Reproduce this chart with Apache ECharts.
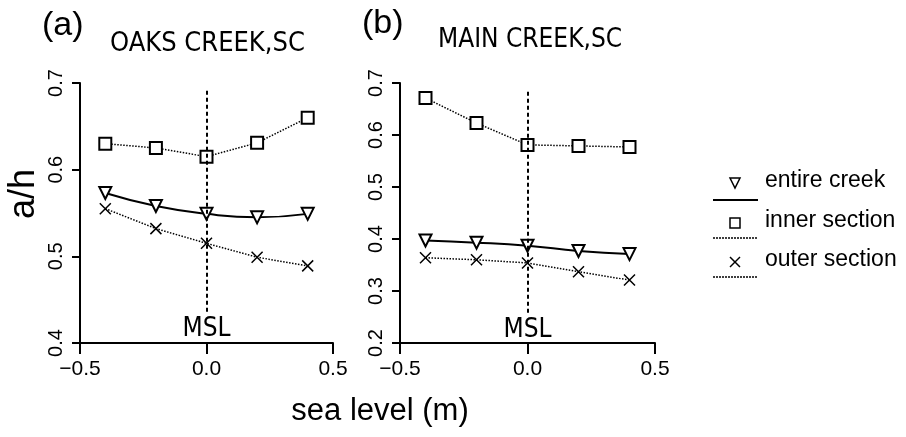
<!DOCTYPE html>
<html>
<head>
<meta charset="utf-8">
<script src="https://cdn.jsdelivr.net/npm/echarts@6/dist/echarts.min.js"></script>
<style>
html, body { margin: 0; background: #fff; }
#chart { width: 906px; height: 437px; }
</style>
</head>
<body>
<div id="chart"></div>
<script>
// sea level (m) at which a/h was computed
var seaLevel = [-0.4, -0.2, 0.0, 0.2, 0.4];
// (a) Oaks Creek
var oaksEntire = [0.573, 0.558, 0.549, 0.545, 0.549];
var oaksInner = [0.630, 0.625, 0.615, 0.631, 0.660];
var oaksOuter = [0.555, 0.532, 0.515, 0.499, 0.489];
// (b) Main Creek
var mainEntire = [0.397, 0.393, 0.387, 0.377, 0.371];
var mainInner = [0.671, 0.623, 0.581, 0.579, 0.577];
var mainOuter = [0.364, 0.360, 0.354, 0.337, 0.321];
// tick labels
var xTicks = [-0.5, 0.0, 0.5];
var oaksYTicks = [0.4, 0.5, 0.6, 0.7];
var mainYTicks = [0.2, 0.3, 0.4, 0.5, 0.6, 0.7];
var panelTitles = ['OAKS CREEK,SC', 'MAIN CREEK,SC'];
var panelTags = ['(a)', '(b)'];
var seriesNames = ['entire creek', 'inner section', 'outer section'];

var SANS = '"Liberation Sans", Arial, sans-serif';
var NARROW = '"Liberation Sans Narrow", "DejaVu Sans Condensed", sans-serif';
var CROSS = 'path://M0,0L10,10M10,0L0,10';

function pairs(xs, ys) {
	var out = [];
	for(var i = 0; i < xs.length; i++) out.push([xs[i], ys[i]]);
	return out;
}
function fmt(v) {
	var s = Math.abs(v).toFixed(1);
	return v < 0 ? '\u2212' + s : s;
}

function xAxisFor(idx) {
	return {
		gridIndex: idx, type: 'value',
		min: xTicks[0], max: xTicks[xTicks.length - 1], interval: 0.5,
		splitLine: { show: false },
		axisLine: { onZero: false, lineStyle: { color: '#000', width: 2 } },
		axisTick: { inside: false, length: 11, lineStyle: { color: '#000', width: 2 } },
		axisLabel: { color: '#000', fontSize: 21, fontFamily: SANS, margin: 16, formatter: fmt, showMinLabel: true, showMaxLabel: true }
	};
}
function yAxisFor(idx, ticks) {
	return {
		gridIndex: idx, type: 'value',
		min: ticks[0], max: ticks[ticks.length - 1], interval: 0.1,
		splitLine: { show: false },
		axisLine: { onZero: false, lineStyle: { color: '#000', width: 2 } },
		axisTick: { length: 8, lineStyle: { color: '#000', width: 2 } },
		axisLabel: { color: '#000', fontSize: 20, fontFamily: SANS, margin: 14, rotate: 90, formatter: fmt }
	};
}

function panelSeries(idx, entire, inner, outer, mslFrom, mslTo) {
	return [{
		name: seriesNames[0], type: 'line', xAxisIndex: idx, yAxisIndex: idx,
		data: pairs(seaLevel, entire), smooth: true,
		symbol: 'emptyTriangle', symbolRotate: 180, symbolSize: 12,
		lineStyle: { color: '#000', width: 2 },
		itemStyle: { color: '#000', borderWidth: 1.5 }
	}, {
		name: seriesNames[1], type: 'line', xAxisIndex: idx, yAxisIndex: idx,
		data: pairs(seaLevel, inner),
		symbol: 'emptyRect', symbolSize: 12,
		lineStyle: { color: '#000', width: 1.5, type: 'dotted' },
		itemStyle: { color: '#000', borderWidth: 1.5 },
		markLine: {
			silent: true, symbol: 'none',
			lineStyle: { color: '#000', width: 2, type: [4, 3] },
			label: { show: true, position: 'start', formatter: 'MSL', color: '#000', fontSize: 26, fontFamily: NARROW, distance: 4 },
			data: [[{ coord: [0, mslFrom] }, { coord: [0, mslTo] }]]
		}
	}, {
		name: seriesNames[2], type: 'line', xAxisIndex: idx, yAxisIndex: idx,
		data: pairs(seaLevel, outer),
		symbol: CROSS, symbolSize: 11,
		lineStyle: { color: '#000', width: 1.5, type: 'dotted' },
		itemStyle: { color: '#000', borderColor: '#000', borderWidth: 1.5 }
	}];
}

// legend drawn by hand: marker above a short line sample
function legendItems() {
	var rows = [
		{ y: 183, line: 200, dash: null, shape: 'tri' },
		{ y: 223, line: 238, dash: [2, 1], shape: 'rect' },
		{ y: 262, line: 277, dash: [2, 1], shape: 'cross' }
	];
	var items = [];
	rows.forEach(function(r, i) {
		if(r.shape == 'tri') {
			items.push({ type: 'polygon', shape: { points: [[730, 178], [740, 178], [735, 188]] }, style: { fill: '#fff', stroke: '#000', lineWidth: 1.5 } });
		} else if(r.shape == 'rect') {
			items.push({ type: 'rect', shape: { x: 730, y: r.y - 5, width: 10, height: 10 }, style: { fill: '#fff', stroke: '#000', lineWidth: 1.5 } });
		} else {
			items.push({ type: 'polyline', shape: { points: [[730, r.y - 5], [740, r.y + 5]] }, style: { stroke: '#000', lineWidth: 1.5 } });
			items.push({ type: 'polyline', shape: { points: [[740, r.y - 5], [730, r.y + 5]] }, style: { stroke: '#000', lineWidth: 1.5 } });
		}
		items.push({ type: 'line', shape: { x1: 713, y1: r.line, x2: 758, y2: r.line }, style: { stroke: '#000', lineWidth: r.dash ? 1.5 : 2, lineDash: r.dash } });
		items.push({ type: 'text', left: 765, top: r.y - 14, style: { text: seriesNames[i], font: '23px ' + SANS, fill: '#000' } });
	});
	return items;
}

var myChart = echarts.init(document.getElementById('chart'));
var option = {
	animation: false,
	backgroundColor: '#fff',
	grid: [
		{ left: 80, top: 83, width: 253, height: 260 },
		{ left: 400, top: 83, width: 255, height: 260 }
	],
	xAxis: [xAxisFor(0), xAxisFor(1)],
	yAxis: [yAxisFor(0, oaksYTicks), yAxisFor(1, mainYTicks)],
	series: panelSeries(0, oaksEntire, oaksInner, oaksOuter, 0.436, 0.694)
		.concat(panelSeries(1, mainEntire, mainInner, mainOuter, 0.258, 0.688)),
	graphic: [
		{ type: 'text', left: 42, top: 9, style: { text: panelTags[0], font: '34px ' + SANS, fill: '#000' } },
		{ type: 'text', left: 110, top: 30, style: { text: panelTitles[0], font: '27px ' + NARROW, fill: '#000' } },
		{ type: 'text', left: 362, top: 7, style: { text: panelTags[1], font: '34px ' + SANS, fill: '#000' } },
		{ type: 'text', left: 438, top: 27, style: { text: panelTitles[1], font: '26px ' + NARROW, fill: '#000' } },
		{ type: 'text', x: 24, y: 194, rotation: Math.PI / 2, style: { text: 'a/h', font: '36px ' + SANS, fill: '#000', align: 'center', verticalAlign: 'middle' } },
		{ type: 'text', x: 380, y: 411, style: { text: 'sea level (m)', font: '31px ' + SANS, fill: '#000', align: 'center', verticalAlign: 'middle' } }
	].concat(legendItems())
};
myChart.setOption(option);
window.onresize = myChart.resize;
</script>
</body>
</html>
